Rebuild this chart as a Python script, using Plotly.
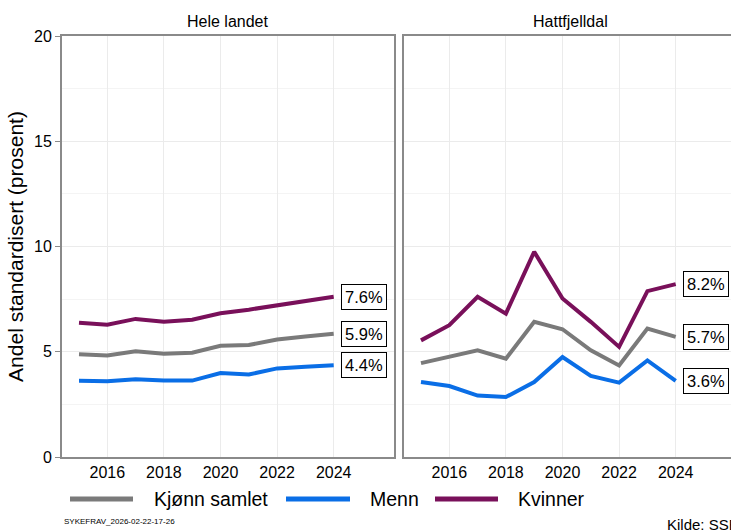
import plotly.graph_objects as go

years = list(range(2015, 2025))

# Hele landet
hele_samlet = [4.88, 4.82, 5.02, 4.90, 4.95, 5.28, 5.32, 5.58, 5.72, 5.86]
hele_menn = [3.62, 3.60, 3.69, 3.63, 3.63, 3.99, 3.92, 4.21, 4.29, 4.36]
hele_kvinner = [6.38, 6.28, 6.56, 6.42, 6.52, 6.83, 7.00, 7.21, 7.42, 7.61]

# Hattfjelldal
hatt_samlet = [4.46, 4.75, 5.07, 4.67, 6.42, 6.07, 5.07, 4.35, 6.10, 5.71]
hatt_menn = [3.56, 3.37, 2.92, 2.85, 3.56, 4.75, 3.85, 3.53, 4.59, 3.62]
hatt_kvinner = [5.54, 6.26, 7.61, 6.81, 9.75, 7.53, 6.42, 5.23, 7.88, 8.21]

series_names = ["Kjønn samlet", "Menn", "Kvinner"]
colors = ["#7a7a7a", "#0a6ee6", "#79105a"]
panel_titles = ["Hele landet", "Hattfjelldal"]
y_ticks = [0, 5, 10, 15, 20]
x_ticks = [2016, 2018, 2020, 2022, 2024]

W, H = 731, 530
ML, MR, MT, MB = 62, 0, 36, 73
PW = W - ML - MR
PH = H - MT - MB


def px(x):
    return (x - ML) / PW


def py(y):
    return (H - MB - y) / PH


FONT = "Liberation Sans, Arial, sans-serif"

fig = go.Figure()

panels = [
    ("x", "y", [hele_samlet, hele_menn, hele_kvinner]),
    ("x2", "y2", [hatt_samlet, hatt_menn, hatt_kvinner]),
]

for xa, ya, data in panels:
    for name, vals, col in zip(series_names, data, colors):
        fig.add_trace(go.Scatter(
            x=years, y=vals, mode="lines", name=name,
            line=dict(color=col, width=4),
            xaxis=xa, yaxis=ya, showlegend=False,
            hoverinfo="x+y+name",
        ))
        fig.add_annotation(
            x=years[-1], y=vals[-1], xref=xa, yref=ya,
            text=f"{vals[-1]:.1f}%", showarrow=False,
            xanchor="left", yanchor="middle", xshift=7,
            font=dict(family=FONT, size=16.5, color="black"),
            bgcolor="white", bordercolor="black", borderwidth=1, borderpad=3,
        )

grid_col = "#ebebeb"
axis_col = "#8a8a8a"

common_x = dict(
    tickvals=x_ticks, ticktext=[str(t) for t in x_ticks],
    showgrid=True, gridcolor=grid_col, gridwidth=1,
    showline=True, linecolor=axis_col, linewidth=2, mirror=True,
    ticks="", zeroline=False, automargin=False,
    tickfont=dict(family=FONT, size=16, color="black"),
)
common_y = dict(
    range=[0, 20], tickvals=y_ticks,
    showgrid=True, gridcolor=grid_col, gridwidth=1,
    minor=dict(dtick=2.5, showgrid=True, gridcolor="#f4f4f4", gridwidth=1),
    showline=True, linecolor=axis_col, linewidth=2,
    zeroline=False, automargin=False,
)

scale = 28.3
x_left0 = 2015 - (79 - 62) / scale
left_end = 394
right_start = 404
fig.update_layout(
    xaxis=dict(domain=[0, px(left_end)], range=[x_left0, x_left0 + (left_end - 62) / scale], anchor="y", **common_x),
    xaxis2=dict(domain=[px(right_start), 1], range=[x_left0, x_left0 + (W - right_start) / scale], anchor="y2", **common_x),
    yaxis=dict(domain=[0, 1], anchor="x", mirror=True, ticks="outside", ticklen=5, tickcolor=axis_col,
               tickfont=dict(family=FONT, size=16, color="black"),
               title=dict(text="Andel standardisert (prosent)", font=dict(family=FONT, size=21, color="black"), standoff=5),
               **common_y),
    yaxis2=dict(domain=[0, 1], anchor="x2", showticklabels=False, ticks="", mirror=False, **common_y),
    width=W, height=H,
    margin=dict(l=ML, r=MR, t=MT, b=MB, autoexpand=False),
    plot_bgcolor="white", paper_bgcolor="white",
    showlegend=False,
    font=dict(family=FONT, color="black"),
)

# Panel titles
fig.add_annotation(x=px(228), y=py(22), xref="paper", yref="paper", text=panel_titles[0],
                   showarrow=False, xanchor="center", yanchor="middle",
                   font=dict(family=FONT, size=16, color="black"))
fig.add_annotation(x=px(570), y=py(22), xref="paper", yref="paper", text=panel_titles[1],
                   showarrow=False, xanchor="center", yanchor="middle",
                   font=dict(family=FONT, size=16, color="black"))

# Custom legend
legend_y = py(499)
leg_lines = [(70, 133, 152), (286, 350, 368), (435, 498, 516)]
for (x0, x1, xt), name, col in zip(leg_lines, series_names, colors):
    fig.add_shape(type="line", xref="paper", yref="paper",
                  x0=px(x0), x1=px(x1), y0=legend_y, y1=legend_y,
                  line=dict(color=col, width=5))
    fig.add_annotation(x=px(xt), y=legend_y, xref="paper", yref="paper", text=name,
                       showarrow=False, xanchor="left", yanchor="middle",
                       font=dict(family=FONT, size=19.5, color="black"))

fig.add_annotation(x=px(62), y=py(521), xref="paper", yref="paper", text="SYKEFRAV_2026-02-22-17-26",
                   showarrow=False, xanchor="left", yanchor="middle",
                   font=dict(family=FONT, size=8, color="black"))
fig.add_annotation(x=px(665), y=py(524), xref="paper", yref="paper", text="Kilde: SSB",
                   showarrow=False, xanchor="left", yanchor="middle",
                   font=dict(family=FONT, size=15, color="black"))

fig.write_html("out.html", config={"displayModeBar": False},
               post_script="document.body.style.margin='0';document.body.style.overflow='hidden';")
